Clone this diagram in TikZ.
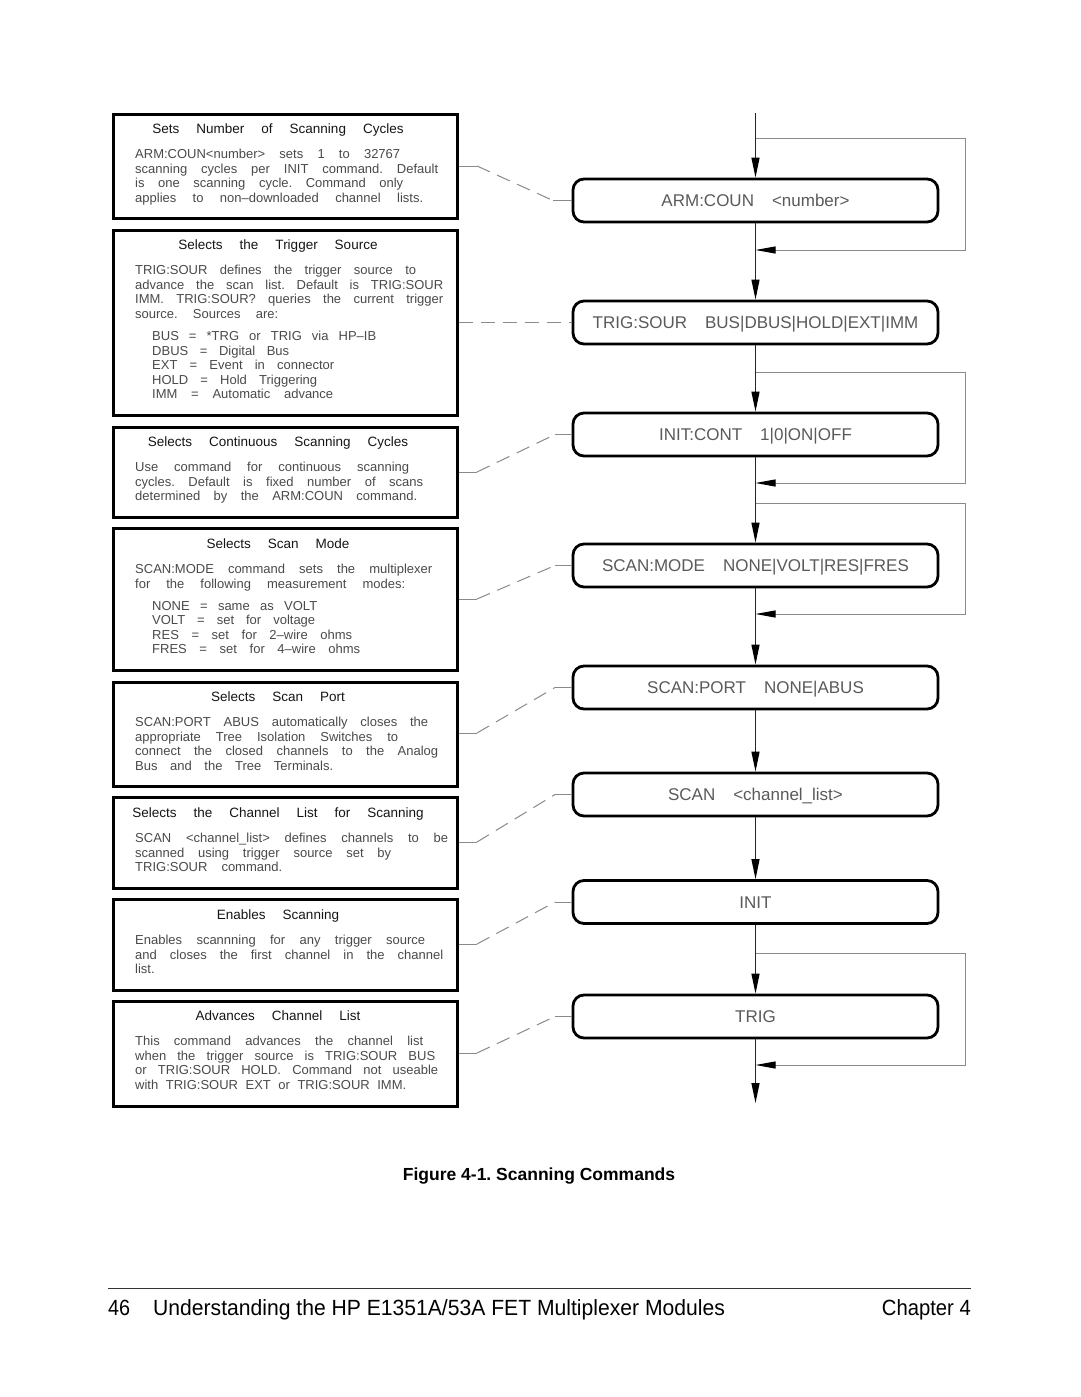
\documentclass[tikz,border=0pt]{standalone}
\usepackage{fontspec}
\setmainfont{Liberation Sans}
\usetikzlibrary{arrows.meta,calc}
\frenchspacing
\definecolor{bodycol}{HTML}{4A4A4A}
\definecolor{headcol}{HTML}{151515}
\definecolor{labcol}{HTML}{5A5A5A}
\definecolor{linecol}{HTML}{8A8A8A}
\newcommand\bodyfnt{\fontsize{13}{14.5}\selectfont\frenchspacing\spaceskip=10pt plus 1fil minus 1fil\relax}
\newcommand\headfnt{\fontsize{13.5}{16}\selectfont\frenchspacing\spaceskip=17pt plus 1pt\relax}
\newcommand\rlabfnt{\fontsize{17}{20}\selectfont\spaceskip=18pt plus 1pt\relax}
\newcommand\jl[2]{\makebox[#1pt][s]{#2}}
\tikzset{
  lbox/.style={draw=black,line width=3pt,minimum width=344pt,inner sep=0pt},
  rbox/.style={draw=black,line width=2.8pt,rounded corners=11pt,minimum width=365pt,
    minimum height=43pt,inner sep=0pt,text height=12pt,text depth=0pt,font=\rlabfnt,text=labcol},
  head/.style={anchor=base,font=\headfnt,text=headcol,inner sep=0pt},
  body/.style={anchor=north west,align=left,font=\bodyfnt,text=bodycol,inner sep=0pt},
  flow/.style={draw=black!85,line width=1.2pt},
  arrd/.style={-{Triangle[length=20pt,width=8pt,color=black]}},
  arrl/.style={-{Triangle[length=20pt,width=7pt,color=black]}},
  loopline/.style={draw=linecol,line width=1pt},
  conn/.style={draw=linecol,line width=1pt},
  dsh/.style={conn,dash pattern=on 14pt off 8pt},
}
\begin{document}
\begin{tikzpicture}[x=1pt,y=-1pt]
\fill[white] (0,0) rectangle (1080,1397);
\useasboundingbox (0,0) rectangle (1080,1397);

% ---------- left description boxes ----------
\node[lbox,minimum height=104pt] (L1) at (285,166) {};
\node[lbox,minimum height=185pt] (L2) at (285,322.5) {};
\node[lbox,minimum height=90pt]  (L3) at (285,472) {};
\node[lbox,minimum height=142pt] (L4) at (285,599) {};
\node[lbox,minimum height=104pt] (L5) at (285,734) {};
\node[lbox,minimum height=91pt]  (L6) at (285,842.5) {};
\node[lbox,minimum height=91pt]  (L7) at (285,944.5) {};
\node[lbox,minimum height=105pt] (L8) at (285,1053.5) {};

\node[head] (h1) at (278,133) {Sets Number of Scanning Cycles};
\node[body] (b1) at (135,149.2) {\jl{265}{ARM:COUN<number> sets 1 to 32767}\\\jl{303}{scanning cycles per INIT command. Default}\\\jl{268}{is one scanning cycle. Command only}\\\jl{288}{applies to non–downloaded channel lists.}};

\node[head] (h2) at (278,249) {Selects the Trigger Source};
\node[body] (b2) at (135,265.2) {\jl{281}{TRIG:SOUR defines the trigger source to}\\\jl{308}{advance the scan list. Default is TRIG:SOUR}\\\jl{308}{IMM. TRIG:SOUR? queries the current trigger}\\\jl{143}{source. Sources are:}};
\node[body] (s2) at (152,331.2) {\jl{224}{BUS = *TRG or TRIG via HP–IB}\\\jl{137}{DBUS = Digital Bus}\\\jl{182}{EXT = Event in connector}\\\jl{165}{HOLD = Hold Triggering}\\\jl{181}{IMM = Automatic advance}};

\node[head] (h3) at (278,446) {Selects Continuous Scanning Cycles};
\node[body] (b3) at (135,462.2) {\jl{274}{Use command for continuous scanning}\\\jl{288}{cycles. Default is fixed number of scans}\\\jl{282}{determined by the ARM:COUN command.}};

\node[head] (h4) at (278,548) {Selects Scan Mode};
\node[body] (b4) at (135,564.2) {\jl{297}{SCAN:MODE command sets the multiplexer}\\\jl{270}{for the following measurement modes:}};
\node[body] (s4) at (152,601.2) {\jl{165}{NONE = same as VOLT}\\\jl{163}{VOLT = set for voltage}\\\jl{200}{RES = set for 2–wire ohms}\\\jl{208}{FRES = set for 4–wire ohms}};

\node[head] (h5) at (278,701) {Selects Scan Port};
\node[body] (b5) at (135,717.2) {\jl{293}{SCAN:PORT ABUS automatically closes the}\\\jl{263}{appropriate Tree Isolation Switches to}\\\jl{303}{connect the closed channels to the Analog}\\\jl{198}{Bus and the Tree Terminals.}};

\node[head] (h6) at (278,817) {Selects the Channel List for Scanning};
\node[body] (b6) at (135,833.2) {\jl{313}{SCAN <channel\_list> defines channels to be}\\\jl{256}{scanned using trigger source set by}\\\jl{147}{TRIG:SOUR command.}};

\node[head] (h7) at (278,919) {Enables Scanning};
\node[body] (b7) at (135,935.2) {\jl{290}{Enables scannning for any trigger source}\\\jl{308}{and closes the first channel in the channel}\\list.};

\node[head] (h8) at (278,1020) {Advances Channel List};
\node[body] (b8) at (135,1036.2) {\jl{288}{This command advances the channel list}\\\jl{300}{when the trigger source is TRIG:SOUR BUS}\\\jl{303}{or TRIG:SOUR HOLD. Command not useable}\\\jl{271}{with TRIG:SOUR EXT or TRIG:SOUR IMM.}};

% ---------- right command boxes ----------
\node[rbox] (R1) at (755.5,200.5) {ARM:COUN <number>};
\node[rbox] (R2) at (755.5,322.5) {TRIG:SOUR BUS|DBUS|HOLD|EXT|IMM};
\node[rbox] (R3) at (755.5,434.5) {INIT:CONT 1|0|ON|OFF};
\node[rbox] (R4) at (755.5,565.5) {SCAN:MODE NONE|VOLT|RES|FRES};
\node[rbox] (R5) at (755.5,687.5) {SCAN:PORT NONE|ABUS};
\node[rbox] (R6) at (755.5,794.5) {SCAN <channel\_list>};
\node[rbox] (R7) at (755.5,902) {INIT};
\node[rbox] (R8) at (755.5,1016.5) {TRIG};

% ---------- main flow ----------
\coordinate (top) at (755.5,113);
\coordinate (bot) at (755.5,1103);
\draw[flow,arrd] (top) -- (R1.north);
\draw[flow,arrd] (R1.south) -- (R2.north);
\draw[flow,arrd] (R2.south) -- (R3.north);
\draw[flow,arrd] (R3.south) -- (R4.north);
\draw[flow,arrd] (R4.south) -- (R5.north);
\draw[flow,arrd] (R5.south) -- (R6.north);
\draw[flow,arrd] (R6.south) -- (R7.north);
\draw[flow,arrd] (R7.south) -- (R8.north);
\draw[flow,arrd] (R8.south) -- (bot);

% ---------- loops ----------
\coordinate (k1a) at (755.5,138);  \coordinate (k1b) at (755.5,250);
\coordinate (k2a) at (755.5,372);  \coordinate (k2b) at (755.5,483);
\coordinate (k3a) at (755.5,503);  \coordinate (k3b) at (755.5,614);
\coordinate (k4a) at (755.5,953);  \coordinate (k4b) at (755.5,1065);
\draw[loopline,arrl] (k1a) -- ++(209.5,0) |- (k1b);
\draw[loopline,arrl] (k2a) -- ++(209.5,0) |- (k2b);
\draw[loopline,arrl] (k3a) -- ++(209.5,0) |- (k3b);
\draw[loopline,arrl] (k4a) -- ++(209.5,0) |- (k4b);

% ---------- leader lines ----------
\coordinate (c1a) at (477,166);  \coordinate (c1b) at (553,200.5);
\draw[conn] (L1.east |- c1a) -- (c1a); \draw[dsh] (c1a) -- (c1b); \draw[conn] (c1b) -- (R1.west);

\draw[dsh] (L2.east |- R2.west) -- (R2.west);

\coordinate (c3a) at (477,472);  \coordinate (c3b) at (555,434.5);
\draw[conn] (L3.east |- c3a) -- (c3a); \draw[dsh] (c3a) -- (c3b); \draw[conn] (c3b) -- (R3.west);

\coordinate (c4a) at (477,599);  \coordinate (c4b) at (555,565.5);
\draw[conn] (L4.east |- c4a) -- (c4a); \draw[dsh] (c4a) -- (c4b); \draw[conn] (c4b) -- (R4.west);

\coordinate (c5a) at (477,733);  \coordinate (c5b) at (555,687.5);
\draw[conn] (L5.east |- c5a) -- (c5a); \draw[dsh] (c5a) -- (c5b); \draw[conn] (c5b) -- (R5.west);

\coordinate (c6a) at (477,842);  \coordinate (c6b) at (555,794.5);
\draw[conn] (L6.east |- c6a) -- (c6a); \draw[dsh] (c6a) -- (c6b); \draw[conn] (c6b) -- (R6.west);

\coordinate (c7a) at (477,944);  \coordinate (c7b) at (555,902);
\draw[conn] (L7.east |- c7a) -- (c7a); \draw[dsh] (c7a) -- (c7b); \draw[conn] (c7b) -- (R7.west);

\coordinate (c8a) at (477,1053); \coordinate (c8b) at (555,1016.5);
\draw[conn] (L8.east |- c8a) -- (c8a); \draw[dsh] (c8a) -- (c8b); \draw[conn] (c8b) -- (R8.west);

% ---------- caption and footer ----------
\node[anchor=base,inner sep=0pt,font=\fontsize{17.5}{20}\selectfont\bfseries] (cap) at (539,1180) {Figure 4-1. Scanning Commands};

\coordinate (fl) at (108,1288); \coordinate (fr) at (971,1288);
\draw[line width=1pt,black!80] (fl) -- (fr);
\node[anchor=base west,inner sep=0pt,font=\fontsize{22}{26}\selectfont] (pg) at (108,1315) {\scalebox{0.9}[1]{46}};
\node[anchor=base west,inner sep=0pt,font=\fontsize{22}{26}\selectfont] (ft) at (153,1315) {\scalebox{0.96}[1]{Understanding the HP E1351A/53A FET Multiplexer Modules}};
\node[anchor=base east,inner sep=0pt,font=\fontsize{22}{26}\selectfont] (ch) at (971,1315) {\scalebox{0.92}[1]{Chapter 4}};
\end{tikzpicture}
\end{document}
